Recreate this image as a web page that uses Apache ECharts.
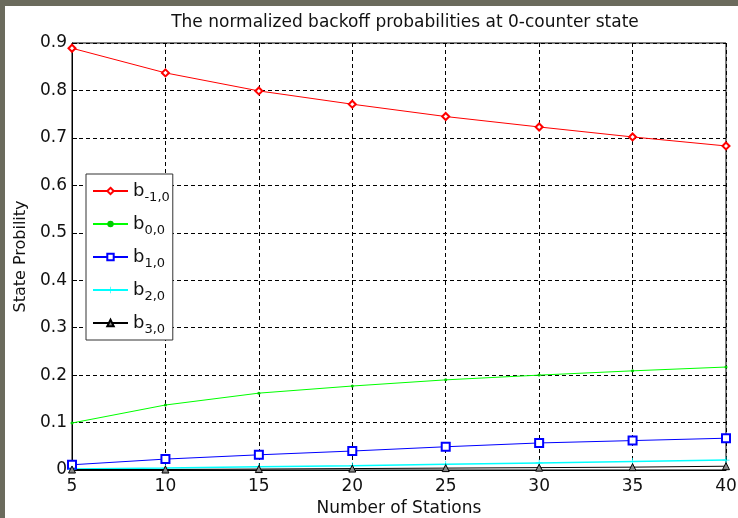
<!DOCTYPE html>
<html lang="en">
<head>
    <meta charset="UTF-8">
    <title>normalized backoff probabilities</title>
    <script src="https://cdn.jsdelivr.net/npm/echarts@6/dist/echarts.min.js"></script>
    <style>
        html, body { margin: 0; padding: 0; }
        #frame { position: relative; width: 738px; height: 518px; background: #6b6b5d; overflow: hidden; }
        #main { position: absolute; left: 5px; top: 6px; width: 733px; height: 512px; background: #fff; }
    </style>
</head>
<body>
<div id="frame"><div id="main"></div></div>
<script type="text/javascript">
    // 数据
    var stations = [5, 10, 15, 20, 25, 30, 35, 40];
    var bm10 = [0.889, 0.837, 0.799, 0.771, 0.745, 0.723, 0.702, 0.683];
    var b00 = [0.099, 0.137, 0.162, 0.177, 0.190, 0.200, 0.209, 0.217];
    var b10 = [0.011, 0.023, 0.032, 0.040, 0.049, 0.057, 0.062, 0.067];
    var b20 = [0.002, 0.004, 0.007, 0.009, 0.012, 0.015, 0.018, 0.021];
    var b30 = [0.001, 0.001, 0.002, 0.003, 0.004, 0.005, 0.006, 0.008];
    var seriesNames = ['b-1,0', 'b0,0', 'b1,0', 'b2,0', 'b3,0'];
    var legendSubs = {'b-1,0': '-1,0', 'b0,0': '0,0', 'b1,0': '1,0', 'b2,0': '2,0', 'b3,0': '3,0'};
    var yTicks = ['0', '0.1', '0.2', '0.3', '0.4', '0.5', '0.6', '0.7', '0.8', '0.9'];

    function pairs(vals) {
        return stations.map(function (x, i) { return [x, vals[i]]; });
    }

    var plusPath = 'path://M4.5,0h1v10h-1zM0,4.5h10v1h-10z';
    var font = 'DejaVu Sans, sans-serif';

    var myChart = echarts.init(document.getElementById('main'));
    var option = {
        animation: false,
        backgroundColor: '#fff',
        textStyle: { fontFamily: font },
        title: {
            text: 'The normalized backoff probabilities at 0-counter state',
            left: 395, top: 3, textAlign: 'center',
            textStyle: { fontSize: 17, fontWeight: 'normal', color: '#111', fontFamily: font }
        },
        grid: {
            left: 67, right: 12, top: 37, bottom: 48,
            outerBoundsMode: 'none',
            show: true, borderColor: '#000', borderWidth: 1, backgroundColor: '#fff'
        },
        legend: {
            orient: 'vertical',
            left: 81, top: 168,
            padding: [8, 3, 4, 6],
            itemGap: 11,
            itemWidth: 35, itemHeight: 8,
            backgroundColor: '#fff',
            borderColor: '#333', borderWidth: 1, borderRadius: 0,
            data: seriesNames,
            formatter: function (name) {
                return '{b|b}{s|' + legendSubs[name] + '}';
            },
            textStyle: {
                rich: {
                    b: { fontSize: 18, color: '#111', fontFamily: font },
                    s: { fontSize: 13, color: '#111', fontFamily: font, padding: [13, 0, 0, 0] }
                }
            }
        },
        xAxis: {
            type: 'value', min: 5, max: 40, interval: 5,
            name: 'Number of Stations', nameLocation: 'middle', nameGap: 23,
            nameTextStyle: { fontSize: 17, color: '#111', fontFamily: font },
            axisLine: { show: true, lineStyle: { color: '#000', width: 1 } },
            axisTick: { show: true, inside: true, length: 5, lineStyle: { color: '#000' } },
            axisLabel: { fontSize: 17, color: '#111', margin: 8, fontFamily: font },
            splitLine: { show: true, lineStyle: { color: '#000', type: [4, 3], width: 1 } }
        },
        yAxis: {
            type: 'value', min: 0, max: 0.9, interval: 0.1,
            name: 'State Probility', nameLocation: 'middle', nameGap: 42,
            nameTextStyle: { fontSize: 16, color: '#111', fontFamily: font },
            axisLine: { show: true, lineStyle: { color: '#000', width: 1 } },
            axisTick: { show: true, inside: true, length: 5, lineStyle: { color: '#000' } },
            axisLabel: {
                fontSize: 17, color: '#111', margin: 5, fontFamily: font,
                formatter: function (v) { return yTicks[Math.round(v * 10)]; }
            },
            splitLine: { show: true, lineStyle: { color: '#000', type: [4, 3], width: 1 } }
        },
        series: [
            {
                name: 'b-1,0', type: 'line', data: pairs(bm10),
                symbol: 'emptyDiamond', symbolSize: 7,
                lineStyle: { color: '#ff0000', width: 1 },
                itemStyle: { color: '#ff0000', borderColor: '#ff0000', borderWidth: 1 }
            },
            {
                name: 'b0,0', type: 'line', data: pairs(b00),
                symbol: 'circle', symbolSize: 3,
                lineStyle: { color: '#00ff00', width: 1 },
                itemStyle: { color: '#00cc00' }
            },
            {
                name: 'b1,0', type: 'line', data: pairs(b10),
                symbol: 'emptyRect', symbolSize: 8,
                lineStyle: { color: '#0000ff', width: 1 },
                itemStyle: { color: '#0000ff', borderColor: '#0000ff', borderWidth: 1 }
            },
            {
                name: 'b2,0', type: 'line', data: pairs(b20),
                symbol: plusPath, symbolSize: 7,
                lineStyle: { color: '#00ffff', width: 1.5 },
                itemStyle: { color: '#00ffff' }
            },
            {
                name: 'b3,0', type: 'line', data: pairs(b30),
                symbol: 'triangle', symbolSize: 7,
                lineStyle: { color: '#000', width: 1 },
                itemStyle: { color: '#888', borderColor: '#000', borderWidth: 1 }
            }
        ]
    };
    myChart.setOption(option);
</script>
</body>
</html>
